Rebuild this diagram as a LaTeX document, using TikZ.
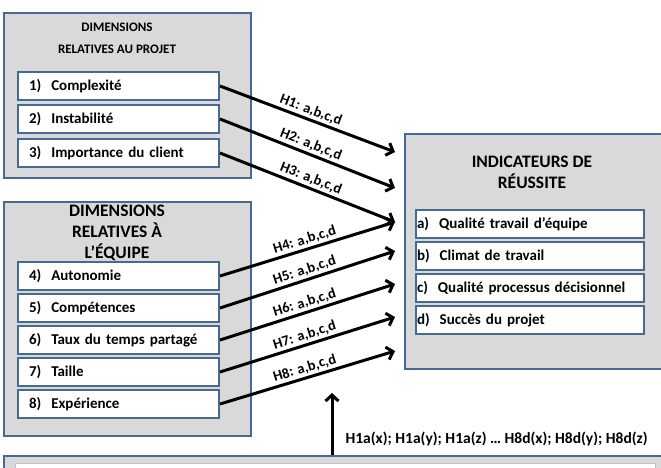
\documentclass[tikz,border=0pt]{standalone}
\usepackage{fontspec}
\setmainfont{Carlito}
\usepackage{tikz}
\usetikzlibrary{arrows.meta, positioning, calc}
\usepackage{xcolor}
\definecolor{panelfill}{RGB}{217,217,217}
\definecolor{panelline}{RGB}{70,106,148}

\begin{document}
\begin{tikzpicture}[x=1pt, y=-1pt,
  panel/.style={draw=panelline, line width=2pt, fill=panelfill, anchor=north west, inner sep=0pt},
  item/.style={draw=panelline, line width=2pt, fill=white, anchor=north west, minimum height=28pt,
    inner xsep=11pt, text width=179pt, align=left, font=\bfseries\fontsize{15}{17}\selectfont},
  result/.style={item, inner xsep=1pt, text width=226pt},
  heading/.style={align=center, font=\bfseries\fontsize{13}{22}\selectfont},
  bigheading/.style={align=center, font=\bfseries\fontsize{17.5}{21}\selectfont},
  link/.style={line width=3pt, -{Straight Barb[length=6pt, width=13pt]}},
  hyp/.style={midway, above, sloped, inner sep=2pt, font=\bfseries\fontsize{14.5}{16}\selectfont}]
  \useasboundingbox (0,0) rectangle (661,467);
  \clip (0,0) rectangle (661,467);

  % panels
  \node[panel, minimum width=247pt, minimum height=165pt] (projet) at (3,12) {};
  \node[panel, minimum width=247pt, minimum height=234pt] (equipe) at (3,201) {};
  \node[panel, minimum width=280pt, minimum height=235pt] (succes) at (404,133) {};
  \node[panel, minimum width=680pt, minimum height=40pt] (mesure) at (3,455) {};
  \node[draw=panelline!40, line width=1pt, fill=white, anchor=north west, minimum width=640pt, minimum height=20pt] (mesurein) at (15,463) {};

  % headings
  \node[heading] (tprojet) at (117,38) {DIMENSIONS\\RELATIVES AU PROJET};
  \node[bigheading] (tequipe) at (117,232.5) {DIMENSIONS\\RELATIVES \`A\\L'\'EQUIPE};
  \node[bigheading] (tsucces) at (532,172.5) {INDICATEURS DE\\R\'EUSSITE};

  % project dimensions
  \node[item] (d1) at (17,71) {1)\ \ Complexit\'e};
  \node[item] (d2) at (17,104) {2)\ \ Instabilit\'e};
  \node[item] (d3) at (17,138) {3)\ \ Importance du client};

  % team dimensions
  \node[item] (d4) at (17,261) {4)\ \ Autonomie};
  \node[item] (d5) at (17,293) {5)\ \ Comp\'etences};
  \node[item] (d6) at (17,325) {6)\ \ Taux du temps partag\'e};
  \node[item] (d7) at (17,357) {7)\ \ Taille};
  \node[item] (d8) at (17,389) {8)\ \ Exp\'erience};

  % success indicators
  \node[result] (ra) at (415,209) {a)\ \ Qualit\'e travail d'\'equipe};
  \node[result] (rb) at (415,241) {b)\ \ Climat de travail};
  \node[result] (rc) at (415,273) {c)\ \ Qualit\'e processus d\'ecisionnel};
  \node[result] (rd) at (415,305) {d)\ \ Succ\`es du projet};

  % arrow ends
  \coordinate (e1) at (395,152);
  \coordinate (e2) at (395,188);
  \coordinate (e3) at (395,222);
  \coordinate (e5) at (395,251);
  \coordinate (e6) at (395,284);
  \coordinate (e7) at (395,317);
  \coordinate (e8) at (395,351);
  \coordinate (up) at (332,393);

  \draw[link] (d1.east) -- (e1) node[hyp] {H1: a,b,c,d};
  \draw[link] (d2.east) -- (e2) node[hyp] {H2: a,b,c,d};
  \draw[link] (d3.east) -- (e3) node[hyp] {H3: a,b,c,d};
  \draw[link] (d4.east) -- (e3) node[hyp] {H4: a,b,c,d};
  \draw[link] (d5.east) -- (e5) node[hyp] {H5: a,b,c,d};
  \draw[link] (d6.east) -- (e6) node[hyp] {H6: a,b,c,d};
  \draw[link] (d7.east) -- (e7) node[hyp] {H7: a,b,c,d};
  \draw[link] (d8.east) -- (e8) node[hyp] {H8: a,b,c,d};

  \draw[link] (up |- mesure.north) -- (up);
  \node[anchor=west, font=\bfseries\fontsize{15.5}{17}\selectfont] (moder) at (342,439)
    {H1a(x); H1a(y); H1a(z) … H8d(x); H8d(y); H8d(z)};
\end{tikzpicture}
\end{document}
